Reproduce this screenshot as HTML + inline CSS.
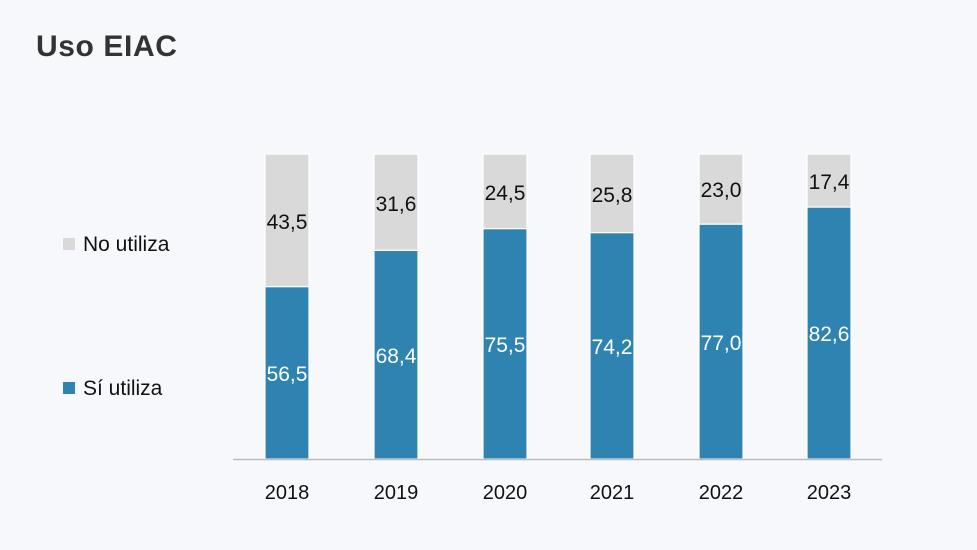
<!DOCTYPE html>
<html><head><meta charset="utf-8"><style>
html,body{margin:0;padding:0;background:#f7f8fc;}
svg{display:block;font-family:"Liberation Sans",sans-serif;}
</style></head><body>
<svg width="977" height="550" viewBox="0 0 977 550">
<rect width="977" height="550" fill="#f7f8fc"/>
<text x="36" y="56" font-size="30" font-weight="bold" fill="#333" letter-spacing="0.6">Uso  EIAC</text>
<g stroke="#fff" stroke-width="1.2">
<rect x="265" y="154" width="44" height="132.7" fill="#d9d9d9"/><rect x="265" y="286.7" width="44" height="172.3" fill="#2e83b1"/>
<rect x="374" y="154" width="44" height="96.4" fill="#d9d9d9"/><rect x="374" y="250.4" width="44" height="208.6" fill="#2e83b1"/>
<rect x="483" y="154" width="44" height="74.7" fill="#d9d9d9"/><rect x="483" y="228.7" width="44" height="230.3" fill="#2e83b1"/>
<rect x="590" y="154" width="44" height="78.7" fill="#d9d9d9"/><rect x="590" y="232.7" width="44" height="226.3" fill="#2e83b1"/>
<rect x="699" y="154" width="44" height="70.2" fill="#d9d9d9"/><rect x="699" y="224.2" width="44" height="234.8" fill="#2e83b1"/>
<rect x="807" y="154" width="44" height="53.1" fill="#d9d9d9"/><rect x="807" y="207.1" width="44" height="251.9" fill="#2e83b1"/>
</g>
<line x1="233" y1="459.5" x2="882" y2="459.5" stroke="#bbb" stroke-width="1.5"/>
<g font-size="21" text-anchor="middle" fill="#111">
<text x="287" y="229">43,5</text><text x="396" y="211">31,6</text><text x="505" y="200">24,5</text>
<text x="612" y="202">25,8</text><text x="721" y="197">23,0</text><text x="829" y="189">17,4</text>
</g>
<g font-size="21" text-anchor="middle" fill="#fff">
<text x="287" y="381">56,5</text><text x="396" y="363">68,4</text><text x="505" y="352">75,5</text>
<text x="612" y="354">74,2</text><text x="721" y="350">77,0</text><text x="829" y="341">82,6</text>
</g>
<g font-size="20" text-anchor="middle" fill="#111">
<text x="287" y="499">2018</text><text x="396" y="499">2019</text><text x="505" y="499">2020</text>
<text x="612" y="499">2021</text><text x="721" y="499">2022</text><text x="829" y="499">2023</text>
</g>
<rect x="63" y="238" width="12" height="12" fill="#d9d9d9"/>
<text x="83" y="251" font-size="21" fill="#111">No utiliza</text>
<rect x="63" y="382" width="12" height="12" fill="#2e83b1"/>
<text x="83" y="395" font-size="21" fill="#111">Sí utiliza</text>
</svg>
</body></html>
